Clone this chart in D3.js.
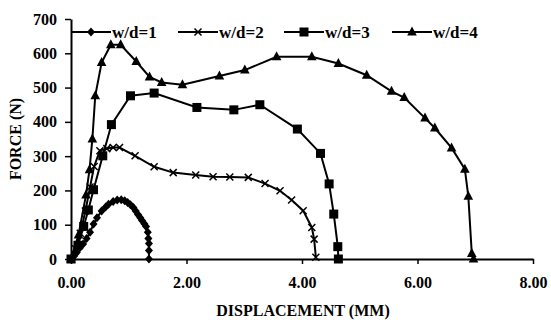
<!DOCTYPE html>
<html><head><meta charset="utf-8">
<script src="https://cdn.jsdelivr.net/npm/d3@7"></script>
<style>body{margin:0;background:#fff}svg{display:block}</style>
</head><body>
<svg id="c" width="551" height="320"></svg>
<script>
const seriesNames = ["w/d=1","w/d=2","w/d=3","w/d=4"];
const xTicks = [0,2,4,6,8];
const yTicks = [0,100,200,300,400,500,600,700];

const wd1 = [[0,0],[0.05,8],[0.10,19],[0.15,32],[0.21,44],[0.27,60],[0.33,78],[0.39,102],[0.45,120],[0.53,140],[0.60,152],[0.65,160],[0.73,168],[0.80,172],[0.87,173],[0.93,170],[0.98,165],[1.03,158],[1.08,150],[1.12,140],[1.16,130],[1.20,120],[1.23,112],[1.27,103],[1.30,95],[1.33,78],[1.34,60],[1.35,45],[1.35,25],[1.35,0]];
const wd2 = [[0,0],[0.08,30],[0.16,75],[0.25,140],[0.33,210],[0.40,270],[0.50,316],[0.62,322],[0.73,325],[0.84,325],[1.11,301],[1.44,269],[1.77,252],[2.16,245],[2.46,240],[2.75,239],[3.07,238],[3.36,220],[3.62,199],[3.82,172],[4.02,141],[4.17,92],[4.21,58],[4.24,5]];
const wd3 = [[0,0],[0.12,40],[0.22,95],[0.30,143],[0.39,202],[0.55,301],[0.70,392],[1.03,476],[1.44,484],[2.18,442],[2.82,435],[3.27,450],[3.92,379],[4.32,308],[4.47,219],[4.55,131],[4.62,36],[4.63,0]];
const wd4 = [[0,0],[0.13,70],[0.26,187],[0.32,260],[0.37,350],[0.42,476],[0.53,573],[0.69,625],[0.86,625],[1.13,576],[1.36,531],[1.57,515],[1.93,508],[2.57,534],[3.01,551],[3.56,590],[4.17,590],[4.63,570],[5.12,536],[5.55,489],[5.77,471],[6.13,411],[6.30,382],[6.59,324],[6.82,262],[6.88,183],[6.94,16],[6.97,0]];
const allSeries = [wd1, wd2, wd3, wd4];
const markerTypes = ["diamond","cross","square","triangle"];

const svg = d3.select("#c");
const m = {l:71, r:18, t:19, b:61};
const W = 551, H = 320;
const x = d3.scaleLinear().domain([0,8]).range([m.l, W - m.r]);
const y = d3.scaleLinear().domain([0,700]).range([H - m.b, m.t]);
const font = "'Liberation Serif','Times New Roman',serif";

// axes
const xa = svg.append("g").attr("transform",`translate(0,${y(0)})`)
  .call(d3.axisBottom(x).tickValues(xTicks).tickFormat(d3.format(".2f")).tickSize(5).tickSizeOuter(0));
const ya = svg.append("g").attr("transform",`translate(${x(0)},0)`)
  .call(d3.axisLeft(y).tickValues(yTicks).tickSize(6).tickSizeOuter(0));
[xa,ya].forEach(g=>{
  g.select(".domain").attr("stroke","#000").attr("stroke-width",2);
  g.selectAll(".tick line").attr("stroke","#000").attr("stroke-width",1.5);
  g.selectAll(".tick text").attr("fill","#000").attr("font-family",font).attr("font-weight","bold").attr("font-size",16);
});
xa.selectAll(".tick text").attr("y",18);
ya.selectAll(".tick text").attr("x",-14);

svg.append("text").attr("x", (x(0)+x(8))/2 + 1).attr("y", 315.5).attr("text-anchor","middle")
  .attr("font-family",font).attr("font-weight","bold").attr("font-size",16).text("DISPLACEMENT (MM)");
svg.append("text").attr("transform",`translate(21,139) rotate(-90)`).attr("text-anchor","middle")
  .attr("font-family",font).attr("font-weight","bold").attr("font-size",16).text("FORCE (N)");

function drawMarker(g, type, cx, cy){
  if(type==="diamond"){
    g.append("path").attr("d",`M${cx},${cy-4.5}L${cx+4},${cy}L${cx},${cy+4.5}L${cx-4},${cy}Z`).attr("fill","#000");
  } else if(type==="square"){
    g.append("rect").attr("x",cx-4.5).attr("y",cy-4.5).attr("width",9).attr("height",9).attr("fill","#000");
  } else if(type==="triangle"){
    g.append("path").attr("d",`M${cx},${cy-5.5}L${cx+4.8},${cy+3.5}L${cx-4.8},${cy+3.5}Z`).attr("fill","#000");
  } else {
    g.append("path").attr("d",`M${cx-3.5},${cy-3.5}L${cx+3.5},${cy+3.5}M${cx+3.5},${cy-3.5}L${cx-3.5},${cy+3.5}`).attr("stroke","#000").attr("stroke-width",1.5);
  }
}

const line = d3.line().x(d=>x(d[0])).y(d=>y(d[1]));
allSeries.forEach((s,i)=>{
  const g = svg.append("g");
  g.append("path").datum(s).attr("d",line).attr("fill","none").attr("stroke","#000").attr("stroke-width",2);
  s.forEach(d=>drawMarker(g, markerTypes[i], x(d[0]), y(d[1])));
});

// legend
const legX = [71, 178, 284, 392];
const ly = 32;
seriesNames.forEach((n,i)=>{
  const g = svg.append("g");
  g.append("line").attr("x1",legX[i]).attr("x2",legX[i]+40).attr("y1",ly).attr("y2",ly).attr("stroke","#000").attr("stroke-width",2);
  drawMarker(g, markerTypes[i], legX[i]+20, ly);
  g.append("text").attr("x",legX[i]+41).attr("y",ly+6).attr("font-family",font).attr("font-weight","bold").attr("font-size",17).text(n);
});
</script>
</body></html>
